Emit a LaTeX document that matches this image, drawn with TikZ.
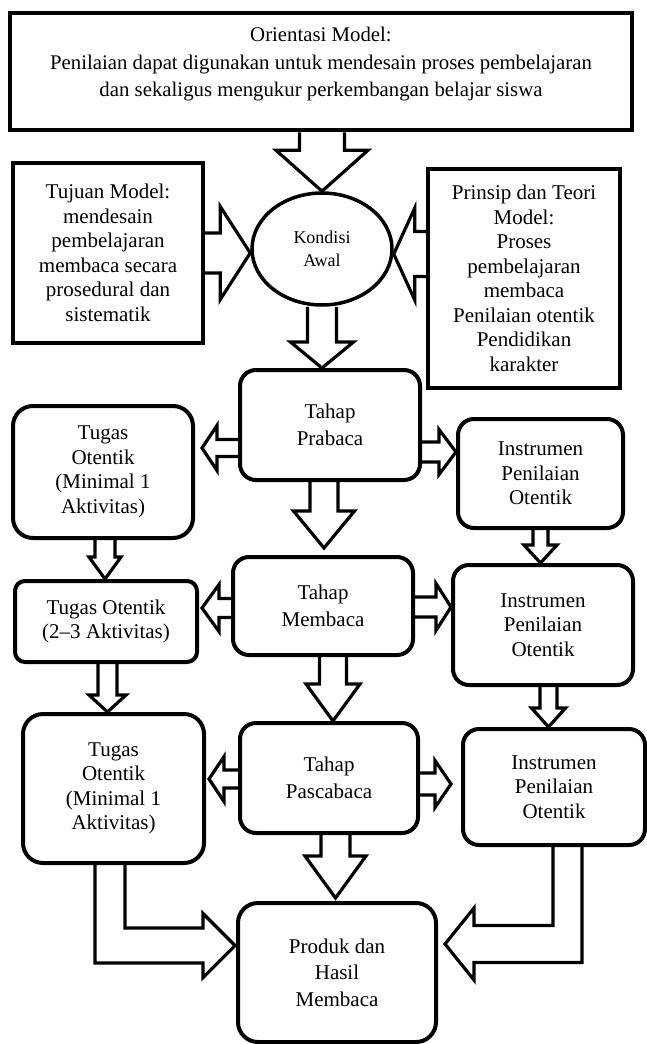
\documentclass[tikz,border=0pt]{standalone}
\usepackage{fontspec}
\setmainfont{Liberation Serif}
\usetikzlibrary{calc,shapes.geometric}
\newcommand\fs{\fontsize{21}{24.5}\selectfont}
\newcommand\fsT{\fontsize{20.8}{27.5}\selectfont}
\newcommand\fsW{\fontsize{21}{26.5}\selectfont}
\newcommand\fsK{\fontsize{18}{23}\selectfont}
\tikzset{
  box/.style={draw, line width=4pt, align=center, inner sep=0pt, font=\fs},
  rbox/.style={box, rounded corners=16pt},
  barrow/.style={draw, line width=3.2pt, line join=miter},
}
% #1 from, #2 to (apex), #3 shaft half width, #4 head half width, #5 head length
\newcommand\dnarrow[5]{\draw[barrow] let \p1=(#1), \p2=(#2) in
  (\x1-#3pt,\y1) -- (\x1-#3pt,\y2+#5pt) -- (\x1-#4pt,\y2+#5pt) -- (\x1,\y2)
  -- (\x1+#4pt,\y2+#5pt) -- (\x1+#3pt,\y2+#5pt) -- (\x1+#3pt,\y1);}
\newcommand\rtarrow[5]{\draw[barrow] let \p1=(#1), \p2=(#2) in
  (\x1,\y1+#3pt) -- (\x2-#5pt,\y1+#3pt) -- (\x2-#5pt,\y1+#4pt) -- (\x2,\y1)
  -- (\x2-#5pt,\y1-#4pt) -- (\x2-#5pt,\y1-#3pt) -- (\x1,\y1-#3pt);}
\newcommand\ltarrow[5]{\draw[barrow] let \p1=(#1), \p2=(#2) in
  (\x1,\y1+#3pt) -- (\x2+#5pt,\y1+#3pt) -- (\x2+#5pt,\y1+#4pt) -- (\x2,\y1)
  -- (\x2+#5pt,\y1-#4pt) -- (\x2+#5pt,\y1-#3pt) -- (\x1,\y1-#3pt);}
% elbow: #1 from (top of vertical part), #2 apex, #3 vertical half, #4 horizontal half, #5 head half, #6 head length
\newcommand\elbowR[6]{\draw[barrow] let \p1=(#1), \p2=(#2) in
  (\x1-#3pt,\y1) -- (\x1-#3pt,\y2-#4pt) -- (\x2-#6pt,\y2-#4pt) -- (\x2-#6pt,\y2-#5pt) -- (\x2,\y2)
  -- (\x2-#6pt,\y2+#5pt) -- (\x2-#6pt,\y2+#4pt) -- (\x1+#3pt,\y2+#4pt) -- (\x1+#3pt,\y1);}
\newcommand\elbowL[6]{\draw[barrow] let \p1=(#1), \p2=(#2) in
  (\x1+#3pt,\y1) -- (\x1+#3pt,\y2-#4pt) -- (\x2+#6pt,\y2-#4pt) -- (\x2+#6pt,\y2-#5pt) -- (\x2,\y2)
  -- (\x2+#6pt,\y2+#5pt) -- (\x2+#6pt,\y2+#4pt) -- (\x1-#3pt,\y2+#4pt) -- (\x1-#3pt,\y1);}
\begin{document}
\begin{tikzpicture}[x=1pt,y=-1pt]
\useasboundingbox (0,0) rectangle (647,1044);
\node[box, minimum width=622pt, minimum height=117pt, line width=4.5pt] (top) at (321,71.5) {};
\node[font=\fsT, align=center, inner sep=0pt] (toptext) at (321,64.5)
  {Orientasi Model:\\Penilaian dapat digunakan untuk mendesain proses pembelajaran\\dan sekaligus mengukur perkembangan belajar siswa};
\node[box, minimum width=190pt, minimum height=180pt] (tuj) at (108,253)
  {Tujuan Model:\\mendesain\\pembelajaran\\membaca secara\\prosedural dan\\sistematik};
\node[draw, ellipse, line width=3.5pt, minimum width=140pt, minimum height=112pt, inner sep=0pt, font=\fsK, align=center] (kond) at (322,249)
  {Kondisi\\Awal};
\node[box, minimum width=192pt, minimum height=219pt] (prin) at (524,278.5)
  {Prinsip dan Teori\\Model:\\Proses\\pembelajaran\\membaca\\Penilaian otentik\\Pendidikan\\karakter};
\node[rbox, minimum width=180pt, minimum height=110pt, font=\fsW] (prab) at (330,425) {Tahap\\Prabaca};
\node[rbox, minimum width=180pt, minimum height=132pt, rounded corners=20pt] (tug1) at (103,472)
  {Tugas\\Otentik\\(Minimal 1\\Aktivitas)};
\node[rbox, minimum width=165pt, minimum height=109pt] (ins1) at (540.5,473.5) {Instrumen\\Penilaian\\Otentik};
\node[rbox, minimum width=182pt, minimum height=81pt, rounded corners=10pt] (tug2) at (106,621.5)
  {Tugas Otentik\\(2--3 Aktivitas)};
\node[rbox, minimum width=180pt, minimum height=98pt, font=\fsW] (memb) at (323,606) {Tahap\\Membaca};
\node[rbox, minimum width=180pt, minimum height=120pt] (ins2) at (543,625) {Instrumen\\Penilaian\\Otentik};
\node[rbox, minimum width=181pt, minimum height=149pt, rounded corners=20pt] (tug3) at (113.5,788.5)
  {Tugas\\Otentik\\(Minimal 1\\Aktivitas)};
\node[rbox, minimum width=178pt, minimum height=110pt, font=\fsW] (pasc) at (329,778) {Tahap\\Pascabaca};
\node[rbox, minimum width=182pt, minimum height=116pt] (ins3) at (554,787) {Instrumen\\Penilaian\\Otentik};
\node[rbox, minimum width=198pt, minimum height=139pt, rounded corners=20pt, font=\fsW] (prod) at (337,972.5)
  {Produk dan\\Hasil\\Membaca};
% arrows
\dnarrow{kond.north |- top.south}{kond.north}{22.5}{46}{41}
\rtarrow{tuj.east}{kond.west}{20}{46.5}{30}
\ltarrow{[yshift=24.5pt]prin.west}{kond.east}{22.5}{46}{21}
\dnarrow{kond.south}{kond.south |- prab.north}{14.5}{31.5}{26}
\ltarrow{[yshift=-23pt]prab.west}{[xshift=7pt]tug1.east}{8.5}{22.5}{15}
\rtarrow{[yshift=-27pt]prab.east}{ins1.west}{10}{22.5}{17}
\dnarrow{[xshift=-6pt]prab.south}{[yshift=7pt]memb.north}{14}{30.5}{37}
\dnarrow{[xshift=2pt]tug1.south}{tug2.north}{10}{16}{22}
\dnarrow{ins1.south}{ins2.north}{7.5}{16.5}{18}
\ltarrow{[yshift=-2pt]memb.west}{[xshift=3pt]tug2.east}{9.5}{23.5}{17}
\rtarrow{[yshift=-1pt]memb.east}{ins2.west}{10}{23.5}{15}
\dnarrow{[xshift=10pt]memb.south}{pasc.north}{13.5}{27}{37}
\dnarrow{[xshift=1.5pt]tug2.south}{tug3.north}{9.5}{18.5}{17}
\dnarrow{[xshift=5.5pt]ins2.south}{ins3.north}{8.5}{17}{19}
\ltarrow{[yshift=-1pt]pasc.west}{[xshift=3pt]tug3.east}{9}{22.5}{15}
\rtarrow{[yshift=-6pt]pasc.east}{[xshift=-10pt]ins3.west}{11}{23.5}{16}
\dnarrow{[xshift=6.5pt]pasc.south}{[yshift=3pt]prod.north}{14.5}{30.5}{42}
\elbowR{[xshift=-3.5pt]tug3.south}{[xshift=-1pt,yshift=27pt]prod.west}{15}{17.5}{32}{32}
\elbowL{[xshift=13.5pt]ins3.south}{[xshift=7pt,yshift=28.5pt]prod.east}{14.5}{18.5}{36}{29}
\end{tikzpicture}
\end{document}
